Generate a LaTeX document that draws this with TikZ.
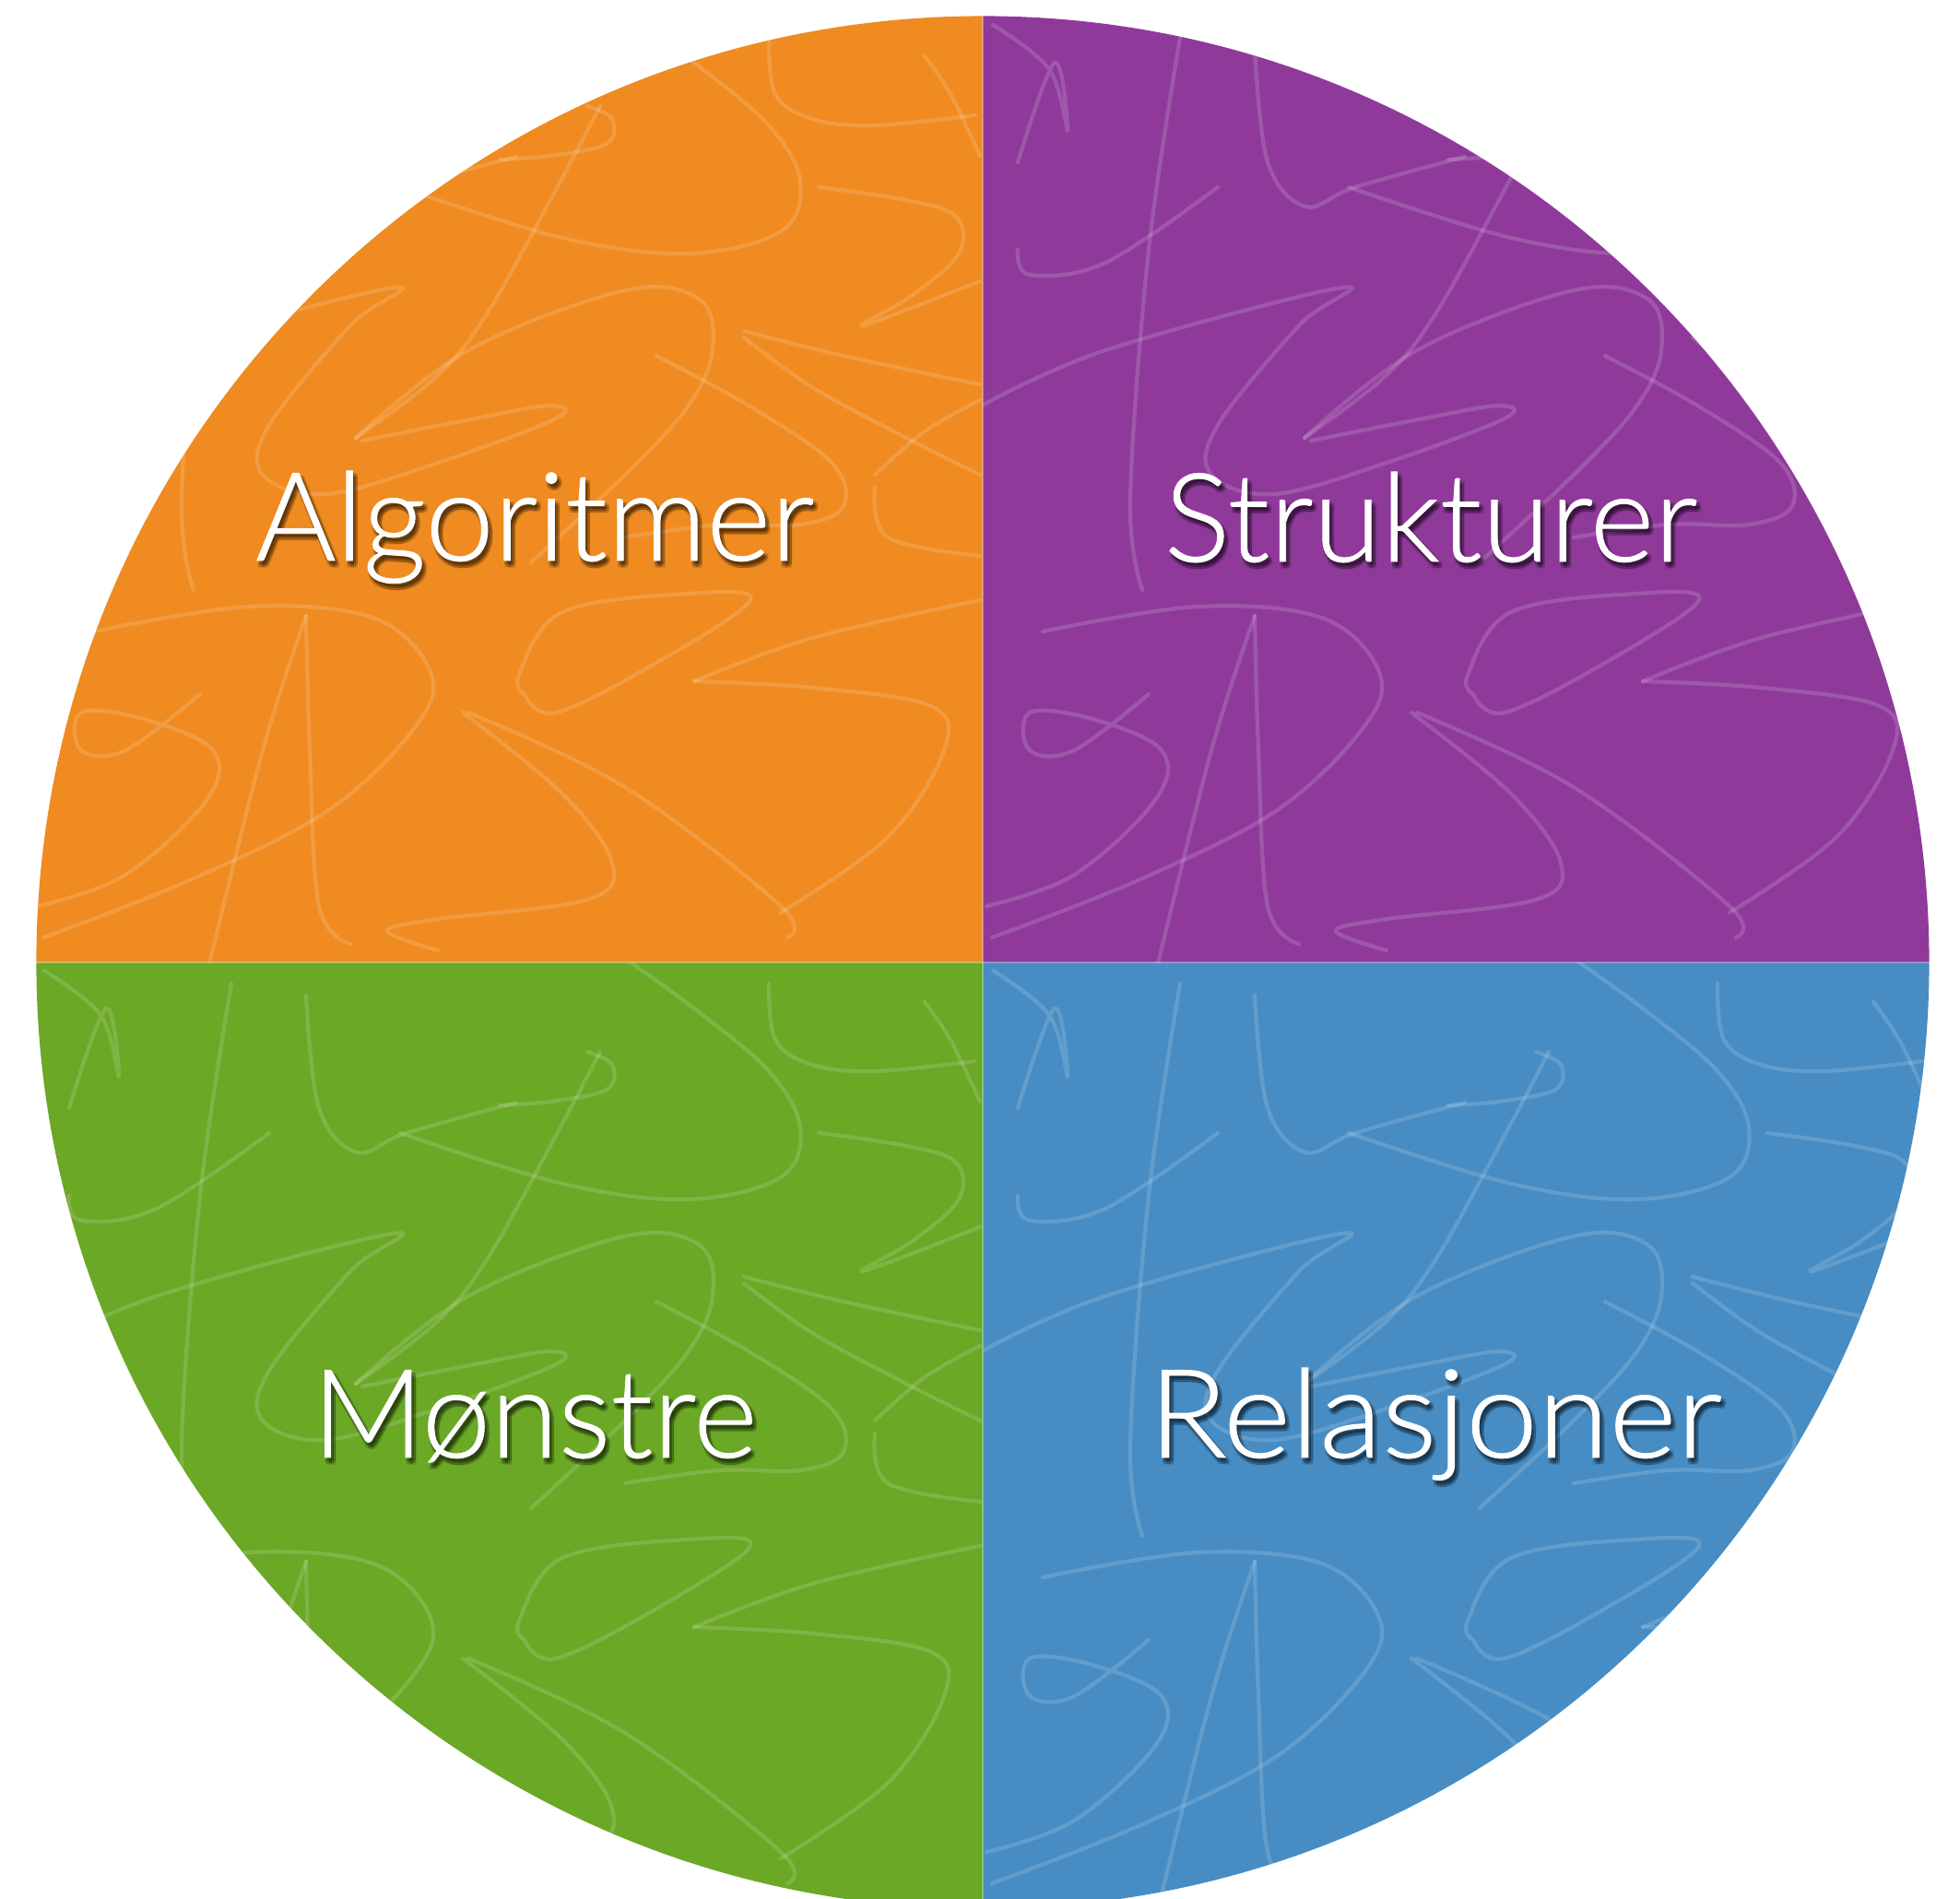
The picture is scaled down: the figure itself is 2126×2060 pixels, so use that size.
\documentclass[tikz,border=0pt]{standalone}
\usepackage{fontspec}
\newfontfamily\labelfont{Lato Light}[RawFeature={embolden=0.7}]
\definecolor{qorange}{RGB}{239,139,32}
\definecolor{qpurple}{RGB}{143,58,155}
\definecolor{qgreen}{RGB}{106,168,38}
\definecolor{qblue}{RGB}{71,141,196}
\tikzset{
  scribble/.style={draw=white, draw opacity=0.15, line width=1.2pt, line cap=round, line join=round},
  qlabel/.style={font=\labelfont\fontsize{38}{40}\selectfont, text=white, anchor=base, inner sep=0pt},
  qshadow/.style={qlabel, text=black, text opacity=0.085},
}
\newcommand\scrib[1]{\draw[scribble] plot[smooth, tension=0.6] coordinates {#1};}
% one tile of the scribbled background texture
\newcommand\scribbletile{%
  \scrib{(834,41) (841,102) (881,129) (949,136) (1058,125)}
  \scrib{(434,203) (610,258) (746,275) (847,251) (868,197) (834,136) (753,68) (678,14)}
  \scrib{(651,115) (597,217) (529,339) (475,407) (386,475)}
  \scrib{(637,115) (664,129) (658,156) (597,169) (542,173)}
  \scrib{(34,441) (170,380) (427,312) (380,353) (292,461) (285,515) (353,536) (475,502) (603,454) (597,440) (515,454) (393,478)}
  \scrib{(386,475) (508,380) (678,315) (759,325) (773,380) (746,441) (678,515) (576,610)}
  \scrib{(807,359) (915,386) (1063,417)}
  \scrib{(807,366) (881,420) (983,475) (1063,515)}
  \scrib{(712,386) (814,441) (902,502) (915,549) (868,569) (780,569) (678,583)}
  \scrib{(102,685) (271,658) (407,671) (468,732) (447,793) (353,881) (203,956) (47,1017)}
  \scrib{(332,668) (285,814) (224,1058)}
  \scrib{(332,668) (336,814) (346,983) (380,1024)}
  \scrib{(502,773) (610,861) (664,936) (637,976) (475,997) (420,1010) (475,1031)}
  \scrib{(508,773) (678,854) (847,983) (854,1017)}
  \scrib{(753,739) (881,746) (1010,766) (1024,814) (963,908) (847,990)}
  \scrib{(753,739) (881,692) (1063,651)}
  \scrib{(569,753) (563,732) (610,664) (746,644) (814,651) (712,719) (603,773) (569,753)}
  \scrib{(217,753) (136,814) (88,814) (88,773) (156,780) (231,814) (224,868) (136,949) (41,983)}
  \scrib{(949,529) (963,583) (1063,603)}
  \scrib{(949,515) (1003,468) (1063,434)}
  \scrib{(1003,61) (1031,102) (1063,169)}
  \scrib{(888,203) (983,217) (1037,235) (1040,275) (990,320) (936,353) (1063,305)}
  \scrib{(48,27) (109,75) (129,142) (115,68) (75,176)}
  \scrib{(75,271) (88,298) (170,285) (292,203)}
  \scrib{(251,41) (217,271) (197,542) (210,640)}
  \scrib{(332,54) (346,176) (387,224) (441,203) (560,170)}
}
\newcommand\relword{\scalebox{1.05}[1]{Relasjoner}}
\begin{document}
\begin{tikzpicture}[x=0.01cm, y=-0.01cm]
  \useasboundingbox (0,0) rectangle (2126,2060);
  \coordinate (c) at (1066,1044);
  \begin{scope}
    \clip (c) circle[radius=10.26cm];
    % quadrants
    \fill[qorange] (0,0) rectangle (c);
    \fill[qpurple] (2126,0) rectangle (c);
    \fill[qgreen] (0,2060) rectangle (c);
    \fill[qblue] (2126,2060) rectangle (c);
    % texture, one tile per quadrant
    \begin{scope}
      \clip (0,0) rectangle (c);
      \scribbletile
    \end{scope}
    \begin{scope}
      \clip (2126,0) rectangle (c);
      \begin{scope}[shift={(1029,0)}]\scribbletile\end{scope}
    \end{scope}
    \begin{scope}
      \clip (0,2060) rectangle (c);
      \begin{scope}[shift={(0,1026)}]\scribbletile\end{scope}
    \end{scope}
    \begin{scope}
      \clip (2126,2060) rectangle (c);
      \begin{scope}[shift={(1029,1026)}]\scribbletile\end{scope}
    \end{scope}
    % seams between the quadrants
    \draw[white, opacity=0.3, line width=0.3pt] (1066,0) -- (1066,2060);
    \draw[white, opacity=0.3, line width=0.3pt] (0,1044) -- (2126,1044);
  \end{scope}
  % soft drop shadows under the labels
  \foreach \dx in {1,3,5}{
    \foreach \dy in {3,5,7}{
      \node[qshadow] (sa\dx\dy) at (580+\dx,608+\dy) {Algoritmer};
      \node[qshadow] (ss\dx\dy) at (1552+\dx,609+\dy) {Strukturer};
      \node[qshadow] (sm\dx\dy) at (580+\dx,1581+\dy) {Mønstre};
      \node[qshadow] (sr\dx\dy) at (1557+\dx,1581+\dy) {\relword};
    }
  }
  % labels
  \node[qlabel] (alg) at (580,608) {Algoritmer};
  \node[qlabel] (str) at (1552,609) {Strukturer};
  \node[qlabel] (mon) at (580,1581) {Mønstre};
  \node[qlabel] (rel) at (1557,1581) {\relword};
\end{tikzpicture}
\end{document}
